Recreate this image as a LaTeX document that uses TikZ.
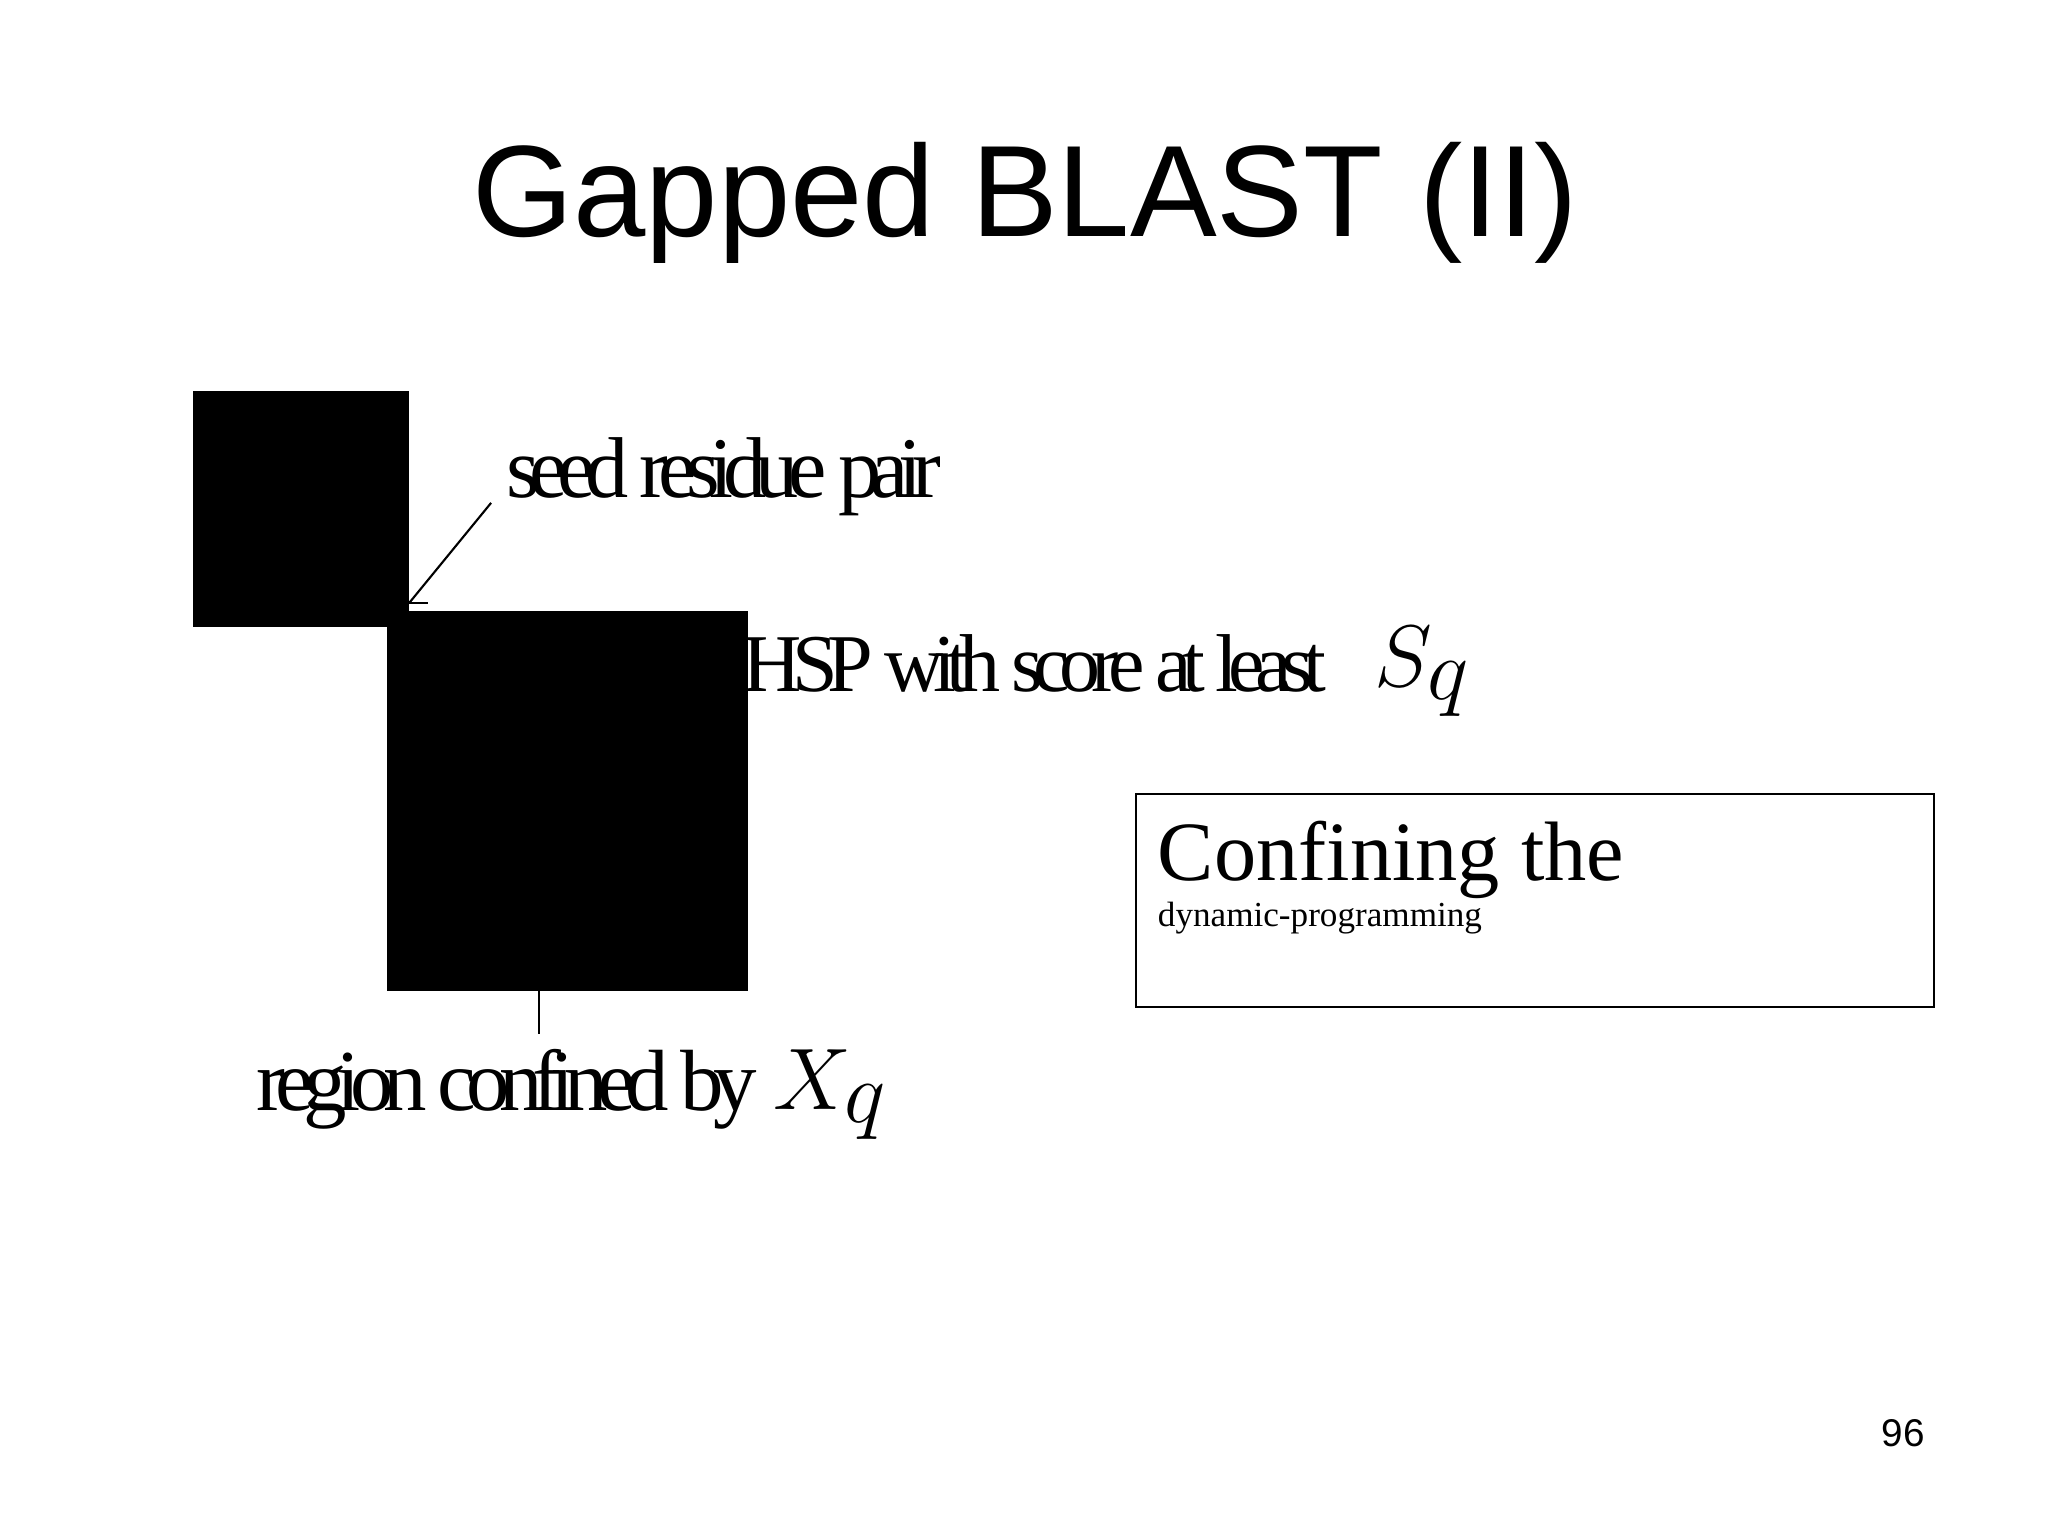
\documentclass[tikz,border=0pt]{standalone}
\usepackage{fontspec}
\usepackage{graphicx}
\setmainfont{Liberation Serif}
\newfontfamily\arialf{Liberation Sans}
\begin{document}
\begin{tikzpicture}[x=0.013061cm,y=-0.013061cm,
  lab/.style={inner sep=0pt,anchor=west}]
\useasboundingbox (0,0) rectangle (1568,1176);
\node[inner sep=0pt] (title) at (785,155) {\arialf\fontsize{37}{40}\selectfont Gapped BLAST (II)};
\fill (148,299) rectangle (313,480);
\fill (296,468) rectangle (573,759);
\coordinate (c1) at (313,462);
\coordinate (c2) at (376,385);
\coordinate (c3) at (328,462);
\draw[line width=0.6pt] (c1) -- (c2);
\draw[line width=0.6pt] (c1) -- (c3);
\coordinate (v1) at (413,759);
\coordinate (v2) at (413,792);
\draw[line width=0.6pt] (v1) -- (v2);
\node[lab] (seed) at (387,365) {\resizebox{4.35cm}{!}{\fontsize{36}{40}\selectfont\addfontfeature{LetterSpace=-12}seed residue pair}};
\node[lab] (hsp) at (568,508) {\resizebox{5.84cm}{!}{\fontsize{36}{40}\selectfont\addfontfeature{LetterSpace=-12}HSP with score at least}};
\node[lab] (sq) at (1052,514) {\fontsize{36}{40}\selectfont$S_q$};
\node[lab] (reg) at (196,834) {\resizebox{5.0cm}{!}{\fontsize{36}{40}\selectfont\addfontfeature{LetterSpace=-12}region confined by}};
\node[lab] (xq) at (592,838) {\fontsize{36}{40}\selectfont$X_q$};
\draw[line width=0.6pt] (870,608) rectangle (1481,771);
\node[anchor=north west,inner sep=0pt,align=left] (box) at (886,628) {\fontsize{24}{28}\selectfont Confining the\\dynamic-programming};
\node[inner sep=0pt] (num) at (1457,1097) {\arialf\fontsize{11}{13}\selectfont 96};
\end{tikzpicture}
\end{document}
